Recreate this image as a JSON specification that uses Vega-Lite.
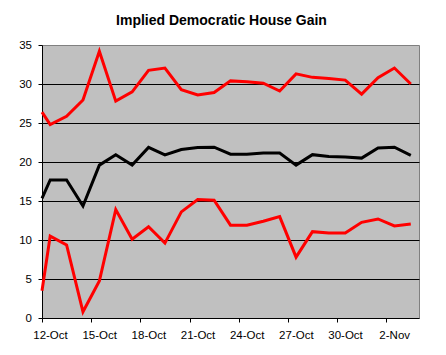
{
  "$schema": "https://vega.github.io/schema/vega-lite/v6.json",
  "autosize": {"type": "none"},
  "width": 377,
  "height": 273,
  "padding": {"left": 42, "top": 45, "right": 27, "bottom": 37},
  "background": "white",
  "title": {
    "text": "Implied Democratic House Gain",
    "font": "Liberation Sans",
    "fontSize": 14,
    "fontWeight": "bold",
    "color": "black",
    "anchor": "middle",
    "frame": "group",
    "dx": -9,
    "offset": 11
  },
  "config": {
    "view": {"fill": "#C0C0C0", "stroke": "#808080", "strokeWidth": 1},
    "axis": {
      "labelFont": "Liberation Sans",
      "labelFontSize": 11.5,
      "labelColor": "black",
      "domainColor": "black",
      "tickColor": "black",
      "tickSize": 4,
      "title": null
    },
    "axisY": {
      "values": [0, 5, 10, 15, 20, 25, 30, 35],
      "labelPadding": 6.5,
      "labelOverlap": false,
      "labelFlush": false,
      "grid": true,
      "gridColor": {"condition": {"test": "datum.value === 35 || datum.value === 0", "value": "transparent"}, "value": "black"},
      "gridWidth": 1,
      "gridOpacity": 1
    }
  },
  "data": {
    "values": [
      {"t": "2006-10-12T00:00", "upper": 26.4, "mid": 15.35, "lower": 3.5},
      {"t": "2006-10-12T12:00", "upper": 24.8, "mid": 17.7, "lower": 10.5},
      {"t": "2006-10-13T12:00", "upper": 25.85, "mid": 17.7, "lower": 9.36},
      {"t": "2006-10-14T12:00", "upper": 27.95, "mid": 14.36, "lower": 0.8},
      {"t": "2006-10-15T12:00", "upper": 34.2, "mid": 19.6, "lower": 4.74},
      {"t": "2006-10-16T12:00", "upper": 27.8, "mid": 20.94, "lower": 13.9},
      {"t": "2006-10-17T12:00", "upper": 29.0, "mid": 19.6, "lower": 10.1},
      {"t": "2006-10-18T12:00", "upper": 31.75, "mid": 21.87, "lower": 11.7},
      {"t": "2006-10-19T12:00", "upper": 32.05, "mid": 20.9, "lower": 9.6},
      {"t": "2006-10-20T12:00", "upper": 29.27, "mid": 21.6, "lower": 13.6},
      {"t": "2006-10-21T12:00", "upper": 28.6, "mid": 21.87, "lower": 15.2},
      {"t": "2006-10-22T12:00", "upper": 28.9, "mid": 21.9, "lower": 15.1},
      {"t": "2006-10-23T12:00", "upper": 30.4, "mid": 21.0, "lower": 11.9},
      {"t": "2006-10-24T12:00", "upper": 30.3, "mid": 21.0, "lower": 11.9},
      {"t": "2006-10-25T12:00", "upper": 30.1, "mid": 21.15, "lower": 12.4},
      {"t": "2006-10-26T12:00", "upper": 29.1, "mid": 21.15, "lower": 13.0},
      {"t": "2006-10-27T12:00", "upper": 31.3, "mid": 19.6, "lower": 7.8},
      {"t": "2006-10-28T12:00", "upper": 30.85, "mid": 20.94, "lower": 11.07},
      {"t": "2006-10-29T12:00", "upper": 30.7, "mid": 20.7, "lower": 10.9},
      {"t": "2006-10-30T12:00", "upper": 30.5, "mid": 20.65, "lower": 10.9},
      {"t": "2006-10-31T12:00", "upper": 28.7, "mid": 20.5, "lower": 12.27},
      {"t": "2006-11-01T12:00", "upper": 30.8, "mid": 21.8, "lower": 12.7},
      {"t": "2006-11-02T12:00", "upper": 32.05, "mid": 21.9, "lower": 11.8},
      {"t": "2006-11-03T12:00", "upper": 30.0, "mid": 20.85, "lower": 12.05}
    ]
  },
  "encoding": {
    "x": {
      "field": "t",
      "type": "temporal",
      "scale": {"domain": [{"year": 2006, "month": 10, "date": 12}, {"year": 2006, "month": 11, "date": 4}]},
      "axis": {
        "values": [
          {"year": 2006, "month": 10, "date": 12},
          {"year": 2006, "month": 10, "date": 15},
          {"year": 2006, "month": 10, "date": 18},
          {"year": 2006, "month": 10, "date": 21},
          {"year": 2006, "month": 10, "date": 24},
          {"year": 2006, "month": 10, "date": 27},
          {"year": 2006, "month": 10, "date": 30},
          {"year": 2006, "month": 11, "date": 2}
        ],
        "format": "%-d-%b",
        "labelOffset": 8,
        "labelPadding": 7,
        "grid": false,
        "labelFlush": false,
        "labelOverlap": false
      }
    }
  },
  "layer": [
    {
      "mark": {"type": "line", "color": "#FF0000", "strokeWidth": 3, "strokeJoin": "miter"},
      "encoding": {
        "y": {"field": "upper", "type": "quantitative", "scale": {"domain": [0, 35], "nice": false, "zero": true}}
      }
    },
    {
      "mark": {"type": "line", "color": "#000000", "strokeWidth": 3, "strokeJoin": "miter"},
      "encoding": {"y": {"field": "mid", "type": "quantitative"}}
    },
    {
      "mark": {"type": "line", "color": "#FF0000", "strokeWidth": 3, "strokeJoin": "miter"},
      "encoding": {"y": {"field": "lower", "type": "quantitative"}}
    }
  ]
}
